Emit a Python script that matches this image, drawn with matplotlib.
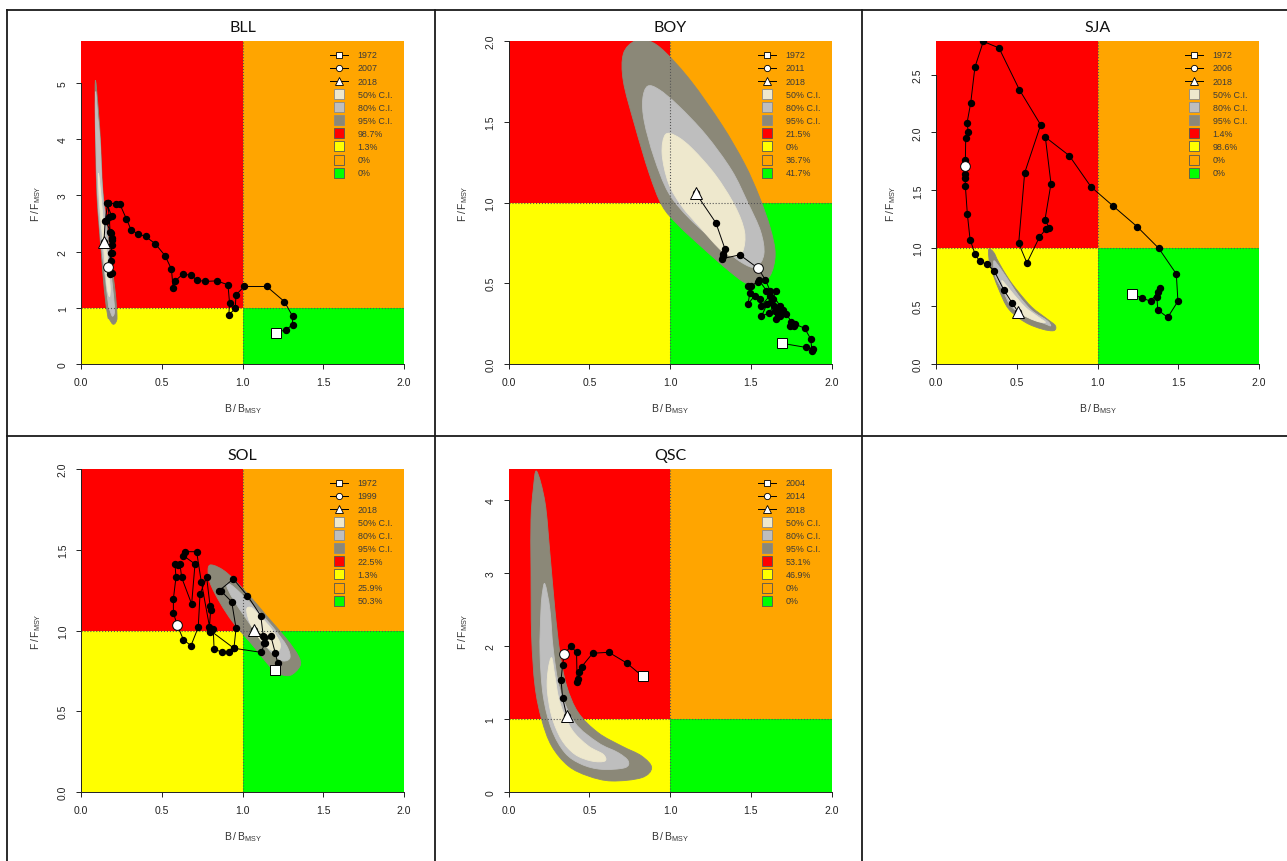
"""Kobe plots (B/Bmsy vs F/Fmsy) for five stocks
"""

import matplotlib
matplotlib.use("Agg")
import matplotlib.pyplot as plt
import numpy as np
from matplotlib.lines import Line2D
from matplotlib.patches import PathPatch, Rectangle
from matplotlib.path import Path

plt.rcParams['font.family'] = ['Liberation Sans', 'DejaVu Sans']
plt.rcParams['mathtext.fontset'] = 'custom'
plt.rcParams['mathtext.rm'] = 'Liberation Sans'

# ---- BLL ----
bll_b = [1.21, 1.27, 1.31, 1.31, 1.26, 1.15, 1.01, 0.96, 0.955, 0.915, 0.92, 0.91,
         0.84, 0.77, 0.72, 0.68, 0.63, 0.58, 0.57, 0.56, 0.52, 0.46, 0.40, 0.35,
         0.31, 0.28, 0.24, 0.215,
         0.17, 0.16, 0.19, 0.153, 0.185, 0.19, 0.185,
         0.17,
         0.178, 0.19, 0.185, 0.19, 0.19, 0.195, 0.18, 0.175, 0.165, 0.15,
         0.142]
bll_f = [0.56, 0.61, 0.70, 0.85, 1.11, 1.38, 1.38, 1.23, 0.99, 0.87, 1.08, 1.41,
         1.48, 1.47, 1.49, 1.58, 1.60, 1.47, 1.36, 1.69, 1.93, 2.14, 2.27, 2.32,
         2.39, 2.59, 2.85, 2.85,
         2.87, 2.86, 2.63, 2.55, 2.34, 2.21, 1.97,
         1.73,
         1.60, 1.62, 1.84, 1.97, 2.12, 2.24, 2.35, 2.62, 2.86, 2.55,
         2.18]
bll_ci95 = [(0.090, 5.05), (0.108, 4.5), (0.120, 4.0), (0.135, 3.1), (0.160, 2.5),
            (0.180, 2.0), (0.210, 1.33), (0.223, 0.86), (0.215, 0.74), (0.197, 0.71),
            (0.175, 0.80), (0.165, 0.86), (0.144, 1.33), (0.125, 2.0), (0.110, 2.52),
            (0.097, 3.1), (0.090, 4.0), (0.087, 4.6)]
bll_ci80 = [(0.092, 4.85), (0.104, 4.4), (0.117, 4.0), (0.132, 3.1), (0.155, 2.5),
            (0.172, 2.0), (0.198, 1.3), (0.208, 0.95), (0.195, 0.85), (0.180, 0.95),
            (0.170, 1.05), (0.152, 1.5), (0.130, 2.0), (0.115, 2.5), (0.103, 3.0),
            (0.094, 3.8), (0.089, 4.5)]
bll_ci50 = [(0.108, 3.4), (0.120, 3.1), (0.140, 2.5), (0.160, 2.0), (0.180, 1.4),
            (0.176, 1.2), (0.160, 1.4), (0.142, 2.0), (0.125, 2.5), (0.112, 3.0)]
bll_years = [1972, 2007, 2018]
bll_pct = ['98.7%', '1.3%', '0%', '0%']

# ---- BOY ----
boy_b = [1.693, 1.839, 1.884, 1.878, 1.870, 1.833, 1.771, 1.751, 1.740, 1.765,
         1.720, 1.690, 1.660, 1.678, 1.658, 1.640, 1.612, 1.565, 1.600, 1.627,
         1.616, 1.565, 1.555, 1.524, 1.482, 1.493, 1.482, 1.503, 1.544, 1.550,
         1.596, 1.654, 1.637, 1.650, 1.670, 1.700, 1.680, 1.620, 1.590, 1.544,
         1.431, 1.318, 1.325, 1.328, 1.339, 1.283, 1.157]
boy_f = [0.128, 0.103, 0.093, 0.080, 0.155, 0.221, 0.248, 0.262, 0.237, 0.235,
         0.310, 0.330, 0.345, 0.300, 0.279, 0.360, 0.316, 0.296, 0.370, 0.382,
         0.423, 0.361, 0.403, 0.423, 0.372, 0.440, 0.481, 0.485, 0.510, 0.520,
         0.454, 0.454, 0.400, 0.330, 0.310, 0.335, 0.360, 0.450, 0.520, 0.593,
         0.676, 0.651, 0.668, 0.682, 0.713, 0.874, 1.060]
boy_ci95 = [(0.78, 2.0), (0.87, 2.0), (0.97, 1.93), (1.13, 1.75), (1.32, 1.48),
            (1.46, 1.24), (1.55, 1.04), (1.62, 0.84), (1.65, 0.68), (1.62, 0.55),
            (1.55, 0.50), (1.47, 0.50), (1.36, 0.58), (1.20, 0.72), (1.05, 0.86),
            (0.95, 0.98), (0.87, 1.18), (0.78, 1.48), (0.71, 1.75), (0.71, 1.92)]
boy_ci80 = [(0.86, 1.72), (0.93, 1.70), (1.05, 1.60), (1.22, 1.42), (1.38, 1.20),
            (1.48, 1.00), (1.56, 0.82), (1.58, 0.68), (1.53, 0.60), (1.44, 0.63),
            (1.30, 0.74), (1.12, 0.90), (0.99, 1.06), (0.90, 1.28), (0.84, 1.50),
            (0.83, 1.64)]
boy_ci50 = [(0.97, 1.42), (1.04, 1.41), (1.14, 1.33), (1.28, 1.17), (1.40, 0.98),
            (1.46, 0.82), (1.45, 0.70), (1.40, 0.665), (1.32, 0.70), (1.19, 0.84),
            (1.07, 0.98), (0.99, 1.12), (0.95, 1.30)]
boy_years = [1972, 2011, 2018]
boy_pct = ['21.5%', '0%', '36.7%', '41.7%']

# ---- SJA ----
sja_b = [1.214, 1.277, 1.329, 1.373, 1.390, 1.368, 1.373, 1.435, 1.498, 1.488,
         1.379, 1.245, 1.098, 0.960, 0.825, 0.677, 0.712, 0.675, 0.702, 0.681,
         0.640, 0.563, 0.512, 0.549, 0.648, 0.516, 0.390, 0.293, 0.241, 0.215,
         0.192, 0.200, 0.184, 0.182, 0.180, 0.182, 0.180, 0.182, 0.194, 0.211,
         0.241, 0.270, 0.314, 0.360, 0.419, 0.470, 0.508]
sja_f = [0.602, 0.570, 0.542, 0.620, 0.654, 0.576, 0.467, 0.403, 0.542, 0.778,
         1.000, 1.187, 1.363, 1.530, 1.800, 1.960, 1.558, 1.247, 1.173, 1.167,
         1.095, 0.873, 1.043, 1.651, 2.066, 2.370, 2.730, 2.786, 2.564, 2.256,
         2.080, 2.008, 1.953, 1.766, 1.709, 1.640, 1.610, 1.536, 1.296, 1.075,
         0.953, 0.887, 0.864, 0.806, 0.642, 0.530, 0.452]
sja_ci95 = [(0.326, 0.988), (0.357, 0.965), (0.388, 0.879), (0.45, 0.735), (0.512, 0.62),
            (0.594, 0.49), (0.688, 0.389), (0.739, 0.331), (0.729, 0.288), (0.656, 0.302),
            (0.553, 0.36), (0.45, 0.475), (0.388, 0.648), (0.336, 0.85)]
sja_ci80 = [(0.357, 0.879), (0.37, 0.879), (0.429, 0.763), (0.512, 0.59), (0.594, 0.461),
            (0.688, 0.374), (0.71, 0.33), (0.677, 0.346), (0.574, 0.403), (0.47, 0.49),
            (0.419, 0.62), (0.367, 0.76)]
sja_ci50 = [(0.42, 0.706), (0.47, 0.62), (0.553, 0.49), (0.636, 0.403), (0.677, 0.36),
            (0.615, 0.374), (0.512, 0.447), (0.45, 0.562), (0.409, 0.706)]
sja_years = [1972, 2006, 2018]
sja_pct = ['1.4%', '98.6%', '0%', '0%']

# ---- SOL ----
sol_b = [1.203, 1.218, 1.203, 1.176, 1.135, 1.129, 1.113, 1.030, 0.943, 0.856,
         0.867, 0.933, 0.960, 0.947, 0.918, 0.875, 0.824, 0.819, 0.800, 0.795,
         0.803, 0.799, 0.778, 0.737, 0.726, 0.681, 0.634, 0.596, 0.572, 0.572,
         0.588, 0.582, 0.600, 0.613, 0.623, 0.685, 0.706, 0.634, 0.644, 0.716,
         0.745, 0.800, 0.947, 1.113, 1.140, 1.135, 1.071]
sol_f = [0.755, 0.800, 0.861, 0.964, 0.923, 0.964, 1.092, 1.216, 1.319, 1.247,
         1.245, 1.178, 1.014, 0.890, 0.865, 0.865, 0.885, 1.009, 0.990, 1.020,
         1.129, 1.154, 1.329, 1.226, 1.020, 0.906, 0.943, 1.034, 1.108, 1.195,
         1.329, 1.412, 1.405, 1.412, 1.329, 1.164, 1.412, 1.463, 1.488, 1.488,
         1.300, 1.000, 0.890, 0.865, 0.920, 0.960, 1.005]
sol_ci95 = [(0.788, 1.389), (0.819, 1.404), (0.902, 1.358), (1.026, 1.234), (1.15, 1.09),
            (1.274, 0.946), (1.346, 0.842), (1.356, 0.78), (1.294, 0.722), (1.212, 0.739),
            (1.15, 0.80), (1.067, 0.904), (0.943, 1.048), (0.861, 1.172), (0.799, 1.296)]
sol_ci80 = [(0.902, 1.276), (0.923, 1.286), (0.985, 1.234), (1.088, 1.131), (1.191, 1.017),
            (1.274, 0.904), (1.294, 0.832), (1.253, 0.811), (1.201, 0.842), (1.129, 0.924),
            (1.026, 1.069), (0.943, 1.193)]
sol_ci50 = [(1.026, 1.131), (1.057, 1.141), (1.108, 1.09), (1.181, 1.007), (1.232, 0.924),
            (1.222, 0.873), (1.17, 0.884), (1.108, 0.946), (1.046, 1.048)]
sol_years = [1972, 1999, 2018]
sol_pct = ['22.5%', '1.3%', '25.9%', '50.3%']

# ---- QSC ----
qsc_b = [0.829, 0.730, 0.620, 0.520, 0.452, 0.437, 0.431, 0.424, 0.420, 0.385,
         0.344, 0.334, 0.324, 0.334, 0.359]
qsc_f = [1.587, 1.770, 1.916, 1.903, 1.719, 1.650, 1.550, 1.505, 1.916, 1.999,
         1.893, 1.746, 1.536, 1.289, 1.047]
qsc_ci95 = [(0.173, 4.40), (0.225, 3.97), (0.255, 3.28), (0.286, 2.506), (0.317, 1.911),
            (0.359, 1.454), (0.431, 1.088), (0.554, 0.813), (0.699, 0.631), (0.823, 0.494),
            (0.885, 0.333), (0.823, 0.196), (0.637, 0.151), (0.493, 0.219), (0.369, 0.357),
            (0.266, 0.631), (0.204, 0.997), (0.163, 1.454), (0.142, 2.14), (0.138, 3.055),
            (0.138, 3.74), (0.152, 4.15)]
qsc_ci80 = [(0.225, 2.85), (0.255, 2.506), (0.276, 1.957), (0.317, 1.409), (0.41, 0.951),
            (0.554, 0.676), (0.678, 0.539), (0.74, 0.425), (0.719, 0.333), (0.575, 0.311),
            (0.451, 0.38), (0.348, 0.539), (0.266, 0.86), (0.214, 1.317), (0.194, 1.911),
            (0.20, 2.506), (0.21, 2.75)]
qsc_ci50 = [(0.266, 1.842), (0.286, 1.591), (0.317, 1.225), (0.39, 0.86), (0.493, 0.631),
            (0.585, 0.517), (0.596, 0.425), (0.513, 0.425), (0.41, 0.517), (0.326, 0.723),
            (0.266, 1.043), (0.239, 1.409), (0.245, 1.683)]
qsc_years = [2004, 2014, 2018]
qsc_pct = ['53.1%', '46.9%', '0%', '0%']

# axis settings per panel
bll_yticks, bll_ylabels, bll_ymax = [0, 1, 2, 3, 4, 5], ['0', '1', '2', '3', '4', '5'], 5.75
boy_yticks, boy_ylabels, boy_ymax = [0, 0.5, 1, 1.5, 2], ['0.0', '0.5', '1.0', '1.5', '2.0'], 2.0
sja_yticks, sja_ylabels, sja_ymax = [0, 0.5, 1, 1.5, 2, 2.5], ['0.0', '0.5', '1.0', '1.5', '2.0', '2.5'], 2.79
sol_yticks, sol_ylabels, sol_ymax = [0, 0.5, 1, 1.5, 2], ['0.0', '0.5', '1.0', '1.5', '2.0'], 2.0
qsc_yticks, qsc_ylabels, qsc_ymax = [0, 1, 2, 3, 4], ['0', '1', '2', '3', '4'], 4.43

CI_COLORS = ['#EEE8CD', '#BEBEBE', '#8B8878']   # 50, 80, 95 %
QUAD_COLORS = ['#FF0000', '#FFFF00', '#FFA500', '#00FF00']


def smooth_outline(poly):
    """Closed Catmull-Rom curve through the outline vertices."""
    p = np.asarray(poly, dtype=float)
    n = len(p)
    verts = [p[0]]
    codes = [Path.MOVETO]
    for i in range(n):
        p0, p1, p2, p3 = p[i - 1], p[i], p[(i + 1) % n], p[(i + 2) % n]
        verts += [p1 + (p2 - p0) / 6, p2 - (p3 - p1) / 6, p2]
        codes += [Path.CURVE4] * 3
    return Path(verts, codes)


def kobe(ax, title, b, f, ci50, ci80, ci95, years, pcts, yticks, ylabels, ymax):
    ax.set_xlim(0, 2)
    ax.set_ylim(0, ymax)
    # quadrants
    ax.add_patch(Rectangle((0, 1), 1, ymax - 1, facecolor=QUAD_COLORS[0], lw=0, zorder=0))
    ax.add_patch(Rectangle((0, 0), 1, 1, facecolor=QUAD_COLORS[1], lw=0, zorder=0))
    ax.add_patch(Rectangle((1, 1), 1, ymax - 1, facecolor=QUAD_COLORS[2], lw=0, zorder=0))
    ax.add_patch(Rectangle((1, 0), 1, 1, facecolor=QUAD_COLORS[3], lw=0, zorder=0))
    # confidence regions
    for poly, col in [(ci95, CI_COLORS[2]), (ci80, CI_COLORS[1]), (ci50, CI_COLORS[0])]:
        ax.add_patch(PathPatch(smooth_outline(poly), facecolor=col, edgecolor=col,
                               lw=0.6, zorder=1))
    ax.axhline(1, color='#555555', ls=':', lw=0.8, zorder=2)
    ax.axvline(1, color='#555555', ls=':', lw=0.8, zorder=2)

    # trajectory
    ax.plot(b, f, color='black', lw=0.7, zorder=3)
    ax.plot(b, f, 'o', ms=4.3, color='black', zorder=4)
    mid = years[1] - years[0]
    ax.plot(b[0], f[0], 's', ms=6.5, mfc='white', mec='black', mew=0.7, zorder=5)
    ax.plot(b[mid], f[mid], 'o', ms=7, mfc='white', mec='black', mew=0.7, zorder=5)
    ax.plot(b[-1], f[-1], '^', ms=8, mfc='white', mec='black', mew=0.7, zorder=5)

    # legend, drawn by hand in axes fraction
    labels = [str(y) for y in years] + ['50% C.I.', '80% C.I.', '95% C.I.'] + pcts
    fills = CI_COLORS + QUAD_COLORS
    y0, dy, xm, xt = 0.957, 0.0405, 0.80, 0.857
    for i, lab in enumerate(labels):
        y = y0 - i * dy
        if i < 3:
            ax.plot([xm - 0.028, xm + 0.028], [y, y], transform=ax.transAxes,
                    color='black', lw=0.7, zorder=6)
            ax.plot([xm], [y], ['s', 'o', '^'][i], ms=[4.5, 4.5, 6][i], mfc='white',
                    mec='black', mew=0.6, transform=ax.transAxes, zorder=7)
        else:
            edge = '#8a8a8a' if i < 6 else '#555555'
            ax.plot([xm], [y], 's', ms=7.8, mfc=fills[i - 3], mec=edge, mew=0.6,
                    transform=ax.transAxes, zorder=7)
        ax.text(xt, y, lab, transform=ax.transAxes, fontsize=6.4, va='center',
                ha='left', color='#3a3a3a', zorder=7)

    # axes in R style
    ax.set_xticks([0, 0.5, 1, 1.5, 2])
    ax.set_xticklabels(['0.0', '0.5', '1.0', '1.5', '2.0'])
    ax.set_yticks(yticks)
    ax.set_yticklabels(ylabels, rotation=90, va='center')
    for s in ['top', 'right']:
        ax.spines[s].set_visible(False)
    ax.spines['bottom'].set_bounds(0, 2)
    ax.spines['left'].set_bounds(yticks[0], yticks[-1])
    for s in ['bottom', 'left']:
        ax.spines[s].set_linewidth(0.7)
        ax.spines[s].set_color('#222222')
    ax.tick_params(direction='out', length=3.5, width=0.7, labelsize=7.5, pad=6,
                   color='#222222', labelcolor='#222222')
    ax.set_xlabel(r'$\mathregular{B\,/\,B_{MSY}}$', fontsize=7.5, labelpad=10,
                  color='#333333')
    ax.set_ylabel(r'$\mathregular{F\,/\,F_{MSY}}$', fontsize=7.5, labelpad=11,
                  color='#333333')
    ax.set_title(title, fontsize=11.5, pad=7, family='Lato', color='#111111')


W, H = 1287, 862
fig = plt.figure(figsize=(W / 100, H / 100), dpi=100)

panels = [
    ('BLL', 81, 365, bll_b, bll_f, bll_ci50, bll_ci80, bll_ci95, bll_years, bll_pct,
     bll_yticks, bll_ylabels, bll_ymax),
    ('BOY', 508.7, 365, boy_b, boy_f, boy_ci50, boy_ci80, boy_ci95, boy_years, boy_pct,
     boy_yticks, boy_ylabels, boy_ymax),
    ('SJA', 936, 365, sja_b, sja_f, sja_ci50, sja_ci80, sja_ci95, sja_years, sja_pct,
     sja_yticks, sja_ylabels, sja_ymax),
    ('SOL', 81, 793, sol_b, sol_f, sol_ci50, sol_ci80, sol_ci95, sol_years, sol_pct,
     sol_yticks, sol_ylabels, sol_ymax),
    ('QSC', 508.7, 793, qsc_b, qsc_f, qsc_ci50, qsc_ci80, qsc_ci95, qsc_years, qsc_pct,
     qsc_yticks, qsc_ylabels, qsc_ymax),
]
for p in panels:
    left_px, bottom_px = p[1], p[2]
    ax = fig.add_axes([left_px / W, 1 - bottom_px / H, 323 / W, 323 / H])
    ax.patch.set_visible(False)
    kobe(ax, p[0], *p[3:])

# panel frames (as pasted into the document)
frame = [((7, 11), (1287, 11)), ((7, 437), (1287, 437)), ((7, 11), (7, 862)),
         ((435, 11), (435, 862)), ((862, 11), (862, 862))]
for (x0, y0), (x1, y1) in frame:
    fig.add_artist(Line2D([x0 / W, x1 / W], [1 - y0 / H, 1 - y1 / H],
                          transform=fig.transFigure, color='#1a1a1a', lw=1.3))

fig.savefig('out.png', dpi=100)
